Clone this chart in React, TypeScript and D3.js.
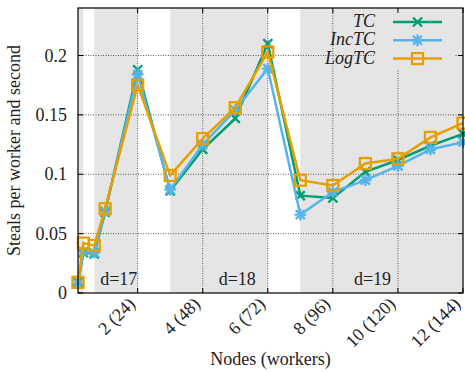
import React from "react";
import * as d3 from "d3";

// Workers per run; each node hosts 12 workers.
const workers = [2, 4, 8, 12, 24, 36, 48, 60, 72, 84, 96, 108, 120, 132, 144];
const WORKERS_PER_NODE = 12;

const tcValues = [0.009, 0.034, 0.033, 0.068, 0.188, 0.086, 0.121, 0.147, 0.21, 0.082, 0.08, 0.102, 0.112, 0.124, 0.134];
const incTcValues = [0.008, 0.035, 0.034, 0.069, 0.184, 0.087, 0.125, 0.154, 0.189, 0.066, 0.085, 0.095, 0.107, 0.121, 0.127];
const logTcValues = [0.009, 0.042, 0.04, 0.071, 0.175, 0.099, 0.13, 0.156, 0.203, 0.095, 0.0905, 0.109, 0.113, 0.131, 0.143];

const xTicks = [2, 4, 6, 8, 10, 12];
const xTickLabels = ["2 (24)", "4 (48)", "6 (72)", "8 (96)", "10 (120)", "12 (144)"];
const yTicks = [0, 0.05, 0.1, 0.15, 0.2];
const yTickLabels = ["0", "0.05", "0.1", "0.15", "0.2"];

// Shaded worker ranges (in workers) and depth annotations (in nodes)
const bandStarts = [2, 8, 36, 84];
const bandEnds = [4, 24, 72, 144];
const depthLabels = ["d=17", "d=18", "d=19"];
const depthLabelPos = [1.42, 5.06, 9.22];

const seriesNames = ["TC", "IncTC", "LogTC"];
const seriesColors = ["#009e73", "#56b4e9", "#e69f00"];

const W = 465;
const H = 372;
const left = 78;
const right = 463;
const top = 8;
const bottom = 293;
const FONT = "Liberation Serif";
const FS = 18;

export default function App() {
  const x = d3.scaleLinear().domain([2 / WORKERS_PER_NODE, 12]).range([left, right]);
  const y = d3.scaleLinear().domain([0, 0.24]).range([bottom, top]);
  const nodes = workers.map((w) => w / WORKERS_PER_NODE);
  const allSeries = [tcValues, incTcValues, logTcValues];

  const line = d3
    .line<number>()
    .x((_, i) => x(nodes[i]))
    .y((v) => y(v));

  const marker = (kind: number, cx: number, cy: number, color: string, key: string) => {
    if (kind === 0) {
      const s = 4.5;
      return (
        <path key={key} d={`M${cx - s},${cy - s}L${cx + s},${cy + s}M${cx - s},${cy + s}L${cx + s},${cy - s}`} stroke={color} strokeWidth={2.3} fill="none" />
      );
    }
    if (kind === 1) {
      const s = 4.5;
      return (
        <path
          key={key}
          d={`M${cx - s},${cy - s}L${cx + s},${cy + s}M${cx - s},${cy + s}L${cx + s},${cy - s}M${cx - s * 1.3},${cy}L${cx + s * 1.3},${cy}M${cx},${cy - s * 1.3}L${cx},${cy + s * 1.3}`}
          stroke={color}
          strokeWidth={2.3}
          fill="none"
        />
      );
    }
    const s = 5.5;
    return <rect key={key} x={cx - s} y={cy - s} width={2 * s} height={2 * s} stroke={color} strokeWidth={2.3} fill="none" />;
  };

  const gridColor = "#333";
  const tickLen = 5;

  return (
    <div style={{ position: "absolute", left: 0, top: 0, width: W, height: H, background: "#fff", fontFamily: FONT }}>
      <svg width={W} height={H} fontFamily={FONT} fontSize={FS}>
        {/* shaded depth bands */}
        {bandStarts.map((b, i) => (
          <rect key={`band${i}`} x={x(b / WORKERS_PER_NODE)} y={top} width={x(bandEnds[i] / WORKERS_PER_NODE) - x(b / WORKERS_PER_NODE)} height={bottom - top} fill="#e5e5e5" />
        ))}

        {/* grid */}
        {xTicks.slice(0, -1).map((t) => (
          <line key={`gx${t}`} x1={x(t)} x2={x(t)} y1={top} y2={bottom} stroke={gridColor} strokeWidth={0.8} strokeDasharray="1,1.5" />
        ))}
        {yTicks.slice(1).map((t) => (
          <line key={`gy${t}`} x1={left} x2={right} y1={y(t)} y2={y(t)} stroke={gridColor} strokeWidth={0.8} strokeDasharray="1,1.5" />
        ))}

        {/* depth annotations */}
        {depthLabels.map((d, i) => (
          <text key={d} x={x(depthLabelPos[i])} y={285} textAnchor="middle" fontFamily={FONT} fontSize={FS} fill="#222">
            {d}
          </text>
        ))}

        {/* legend backdrop */}
        <rect x={374} y={top + 1} width={81} height={60} fill="#e5e5e5" />

        {/* series */}
        {allSeries.map((vals, si) => (
          <g key={seriesNames[si]}>
            <path d={line(vals) || ""} fill="none" stroke={seriesColors[si]} strokeWidth={2.5} strokeLinejoin="miter" />
            {vals.map((v, i) => marker(si, x(nodes[i]), y(v), seriesColors[si], `${si}-${i}`))}
          </g>
        ))}

        {/* legend */}
        {seriesNames.map((n, i) => {
          const ly = 22 + i * 18.3;
          return (
            <g key={`leg${n}`}>
              <text x={375} y={ly + 5} textAnchor="end" fontFamily={FONT} fontSize={FS} fontStyle="italic" fill="#222">
                {n}
              </text>
              <line x1={393} x2={442} y1={ly} y2={ly} stroke={seriesColors[i]} strokeWidth={2.5} />
              {marker(i, 417.5, ly, seriesColors[i], `lm${i}`)}
            </g>
          );
        })}

        {/* ticks */}
        {xTicks.map((t) => (
          <g key={`tx${t}`}>
            <line x1={x(t)} x2={x(t)} y1={bottom} y2={bottom - tickLen} stroke="#000" strokeWidth={1} />
            <line x1={x(t)} x2={x(t)} y1={top} y2={top + tickLen} stroke="#000" strokeWidth={1} />
          </g>
        ))}
        {yTicks.map((t) => (
          <g key={`ty${t}`}>
            <line x1={left} x2={left + tickLen} y1={y(t)} y2={y(t)} stroke="#000" strokeWidth={1} />
            <line x1={right} x2={right - tickLen} y1={y(t)} y2={y(t)} stroke="#000" strokeWidth={1} />
          </g>
        ))}

        {/* frame */}
        <rect x={left} y={top} width={right - left} height={bottom - top} fill="none" stroke="#000" strokeWidth={1.2} />

        {/* tick labels */}
        {yTicks.map((t, i) => (
          <text key={`yl${t}`} x={67} y={y(t) + 6} textAnchor="end" fontFamily={FONT} fontSize={FS} fill="#222">
            {yTickLabels[i]}
          </text>
        ))}
        {xTicks.map((t, i) => (
          <text key={`xl${t}`} transform={`translate(${x(t) - 1.5},${bottom + 12}) rotate(-45)`} textAnchor="end" fontFamily={FONT} fontSize={FS} fill="#222">
            {xTickLabels[i]}
          </text>
        ))}

        {/* axis titles */}
        <text x={(left + right) / 2} y={365} textAnchor="middle" fontFamily={FONT} fontSize={FS} fill="#222">
          Nodes (workers)
        </text>
        <text transform={`translate(20,${(top + bottom) / 2}) rotate(-90)`} textAnchor="middle" fontFamily={FONT} fontSize={FS} fill="#222">
          Steals per worker and second
        </text>
      </svg>
    </div>
  );
}
